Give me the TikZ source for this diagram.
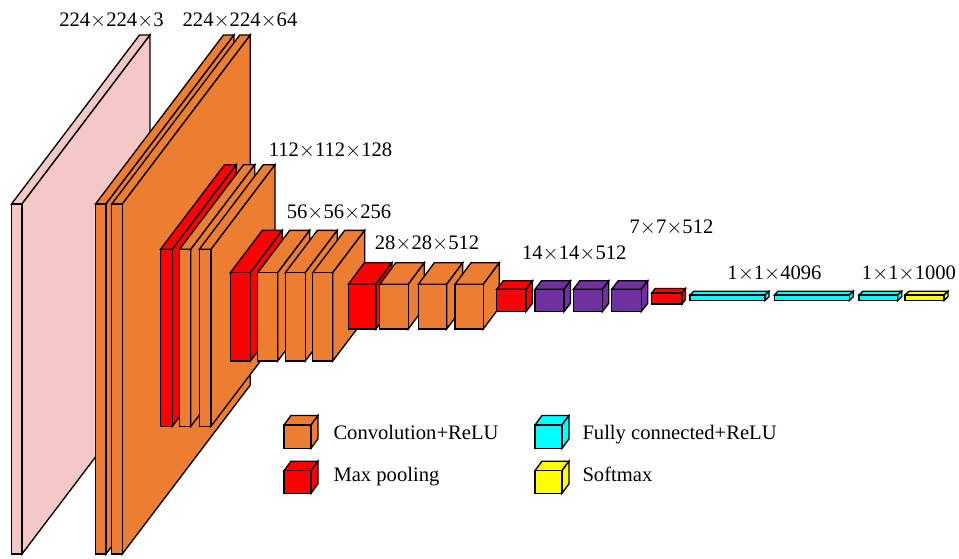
\documentclass[tikz,border=0pt]{standalone}
\usepackage{fontspec}
\setmainfont{Liberation Serif}
\definecolor{cpink}{HTML}{F5C8C8}
\definecolor{corange}{HTML}{ED7D31}
\definecolor{cred}{HTML}{FF0000}
\definecolor{cpurple}{HTML}{7030A0}
\definecolor{ccyan}{HTML}{00FFFF}
\definecolor{cyellow}{HTML}{FFFF00}
\newcommand{\tm}{${\times}$}
% #1 x, #2 ytop, #3 w, #4 h, #5 dx, #6 dy, #7 colour, #8 name
\newcommand{\cube}[8]{%
  \filldraw[cubeline, fill=#7] (#1,#2) -- ++(#5,-#6) -- ++(#3,0) -- ++(-#5,#6) -- cycle;
  \filldraw[cubeline, fill=#7] (#1+#3,#2) -- ++(#5,-#6) -- ++(0,#4) -- ++(-#5,#6) -- cycle;
  \filldraw[cubeline, fill=#7] (#1,#2) rectangle ++(#3,#4);
  \coordinate (#8) at (#1,#2);
}
\begin{document}
\begin{tikzpicture}[x=1pt,y=-1pt,
  cubeline/.style={draw=black, line width=1.35pt},
  dimlabel/.style={anchor=base, inner sep=0pt, font=\fontsize{20.6}{24}\selectfont},
  leglabel/.style={anchor=base west, inner sep=0pt, font=\fontsize{20.6}{24}\selectfont}]
\useasboundingbox (0,0) rectangle (959,558);
% 224 group
\cube{11.5}{204}{10.5}{350}{128}{169}{cpink}{in}
\cube{95.5}{204}{10.5}{350}{128}{169}{corange}{c11}
\cube{111.8}{204}{10.5}{350}{128}{169}{corange}{c12}
% 112 group
\cube{160.5}{249.3}{11.8}{177}{64}{84.5}{cred}{p1}
\cube{179.5}{249.3}{11.3}{177}{64}{84.5}{corange}{c21}
\cube{199.3}{249.3}{11.7}{177}{64}{84.5}{corange}{c22}
% 56 group
\cube{230.3}{272.7}{20}{88.3}{32}{42.3}{cred}{p2}
\cube{257.7}{272.7}{20}{88.3}{32}{42.3}{corange}{c31}
\cube{285.3}{272.7}{20}{88.3}{32}{42.3}{corange}{c32}
\cube{312.7}{272.7}{20}{88.3}{32}{42.3}{corange}{c33}
% 28 group
\cube{348.3}{284.3}{27.7}{44.7}{16}{21.5}{cred}{p3}
\cube{379.7}{284.3}{28.6}{44.7}{16}{21.5}{corange}{c41}
\cube{418.3}{284.3}{28.4}{44.7}{16}{21.5}{corange}{c42}
\cube{455}{284.3}{28.3}{44.7}{16}{21.5}{corange}{c43}
% 14 group
\cube{496.7}{289.3}{29.3}{22.4}{6.5}{8.5}{cred}{p4}
\cube{535}{289.3}{29}{22.4}{6.5}{8.5}{cpurple}{c51}
\cube{573.3}{289.3}{29}{22.4}{6.5}{8.5}{cpurple}{c52}
\cube{611.7}{289.3}{29.5}{22.4}{6.5}{8.5}{cpurple}{c53}
% 7 group
\cube{651.7}{293}{30.3}{11}{3.5}{4.5}{cred}{p5}
% fully connected
\cube{690}{295}{75}{5.5}{4}{3.8}{ccyan}{f1}
\cube{774.3}{295}{75}{5.5}{4}{3.8}{ccyan}{f2}
\cube{859}{295}{38.7}{5.5}{4}{3.8}{ccyan}{f3}
\cube{905}{295}{39}{5.5}{4}{3.8}{cyellow}{sm}
% labels
\node[dimlabel] (l1) at (111.5,26.7) {224\tm 224\tm 3};
\node[dimlabel] (l2) at (240,26.7) {224\tm 224\tm 64};
\node[dimlabel] (l3) at (330.5,156) {112\tm 112\tm 128};
\node[dimlabel] (l4) at (339,218.3) {56\tm 56\tm 256};
\node[dimlabel] (l5) at (427,249.3) {28\tm 28\tm 512};
\node[dimlabel] (l6) at (574.3,259.3) {14\tm 14\tm 512};
\node[dimlabel] (l7) at (671.5,233.5) {7\tm 7\tm 512};
\node[dimlabel] (l8) at (774.5,279.3) {1\tm 1\tm 4096};
\node[dimlabel] (l9) at (909,279.3) {1\tm 1\tm 1000};
% legend
\cube{284}{425}{27}{23.3}{7}{9.5}{corange}{lg1}
\cube{284}{470.7}{27}{22.6}{7}{9.5}{cred}{lg2}
\cube{535}{425}{27}{23.3}{7}{9.5}{ccyan}{lg3}
\cube{535}{470.7}{27}{22.6}{7}{9.5}{cyellow}{lg4}
\node[leglabel] (t1) at (333.3,439.3) {Convolution+ReLU};
\node[leglabel] (t2) at (333.3,481.7) {Max pooling};
\node[leglabel] (t3) at (582.3,439.3) {Fully connected+ReLU};
\node[leglabel] (t4) at (582.3,481.7) {Softmax};
\end{tikzpicture}
\end{document}
